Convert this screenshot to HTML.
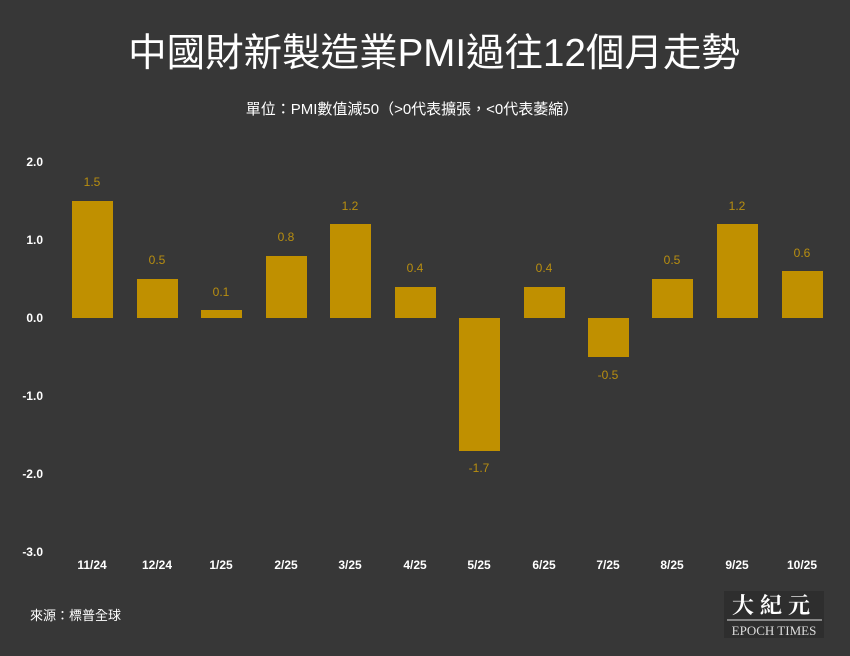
<!DOCTYPE html>
<html><head><meta charset="utf-8"><style>
body{margin:0;width:850px;height:651px;background:#373737;overflow:hidden;font-family:"Liberation Sans","Noto Sans CJK TC",sans-serif}
</style></head><body>
<svg width="850" height="651" xmlns="http://www.w3.org/2000/svg" font-family="Liberation Sans, Noto Sans CJK TC, sans-serif">
<rect width="850" height="651" fill="#373737"/>
<text x="434" y="66" fill="#fff" font-size="38.5" text-anchor="middle">中國財新製造業PMI過往12個月走勢</text>
<text x="412" y="114" fill="#fff" font-size="15" text-anchor="middle">單位：PMI數值減50（&gt;0代表擴張，&lt;0代表萎縮）</text>
<g fill="#fff" font-size="12" font-weight="bold" text-anchor="end">
<text x="43" y="166">2.0</text><text x="43" y="244">1.0</text><text x="43" y="322">0.0</text>
<text x="43" y="400">-1.0</text><text x="43" y="478">-2.0</text><text x="43" y="556">-3.0</text>
</g>
<g fill="#c09000">
<rect x="72" y="201" width="41" height="117"/>
<rect x="137" y="279" width="41" height="39"/>
<rect x="201" y="310" width="41" height="8"/>
<rect x="266" y="256" width="41" height="62"/>
<rect x="330" y="224" width="41" height="94"/>
<rect x="395" y="287" width="41" height="31"/>
<rect x="459" y="318" width="41" height="133"/>
<rect x="524" y="287" width="41" height="31"/>
<rect x="588" y="318" width="41" height="39"/>
<rect x="652" y="279" width="41" height="39"/>
<rect x="717" y="224" width="41" height="94"/>
<rect x="782" y="271" width="41" height="47"/>
</g>
<g fill="#b88e10" font-size="12" text-anchor="middle">
<text x="92" y="186">1.5</text><text x="157" y="264">0.5</text><text x="221" y="296">0.1</text>
<text x="286" y="241">0.8</text><text x="350" y="210">1.2</text><text x="415" y="272">0.4</text>
<text x="479" y="472">-1.7</text><text x="544" y="272">0.4</text><text x="608" y="379">-0.5</text>
<text x="672" y="264">0.5</text><text x="737" y="210">1.2</text><text x="802" y="257">0.6</text>
</g>
<g fill="#fff" font-size="12" font-weight="bold" text-anchor="middle">
<text x="92" y="569">11/24</text><text x="157" y="569">12/24</text><text x="221" y="569">1/25</text>
<text x="286" y="569">2/25</text><text x="350" y="569">3/25</text><text x="415" y="569">4/25</text>
<text x="479" y="569">5/25</text><text x="544" y="569">6/25</text><text x="608" y="569">7/25</text>
<text x="672" y="569">8/25</text><text x="737" y="569">9/25</text><text x="802" y="569">10/25</text>
</g>
<text x="30" y="620" fill="#fff" font-size="13">來源：標普全球</text>
<rect x="724" y="591" width="100" height="47" fill="#2e2e2e"/>
<text x="774" y="613" fill="#fff" font-size="22" font-weight="bold" text-anchor="middle" font-family="Noto Serif CJK SC, serif" letter-spacing="6">大紀元</text>
<line x1="727" y1="620" x2="822" y2="620" stroke="#ddd" stroke-width="1"/>
<text x="774" y="635" fill="#ddd" font-size="13" text-anchor="middle" font-family="Liberation Serif, serif">EPOCH TIMES</text>
</svg>
</body></html>
